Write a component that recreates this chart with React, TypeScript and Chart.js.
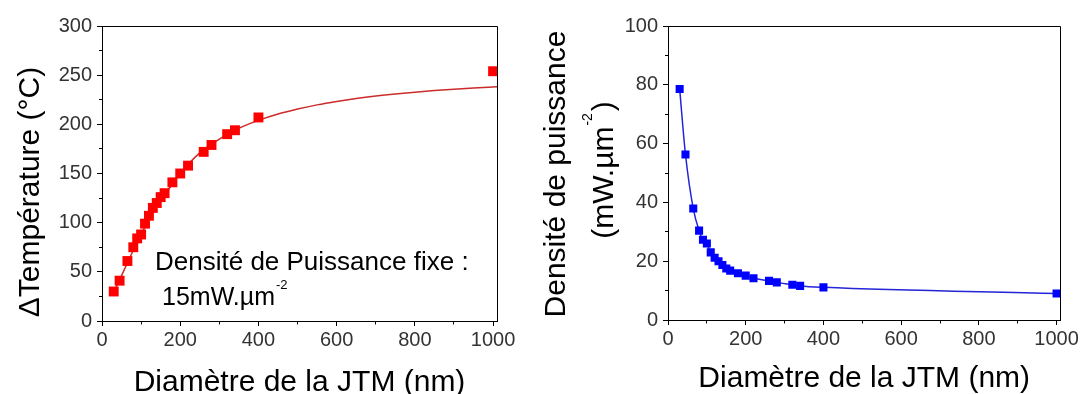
import React, { useEffect, useRef } from 'react';
import { Chart, registerables } from 'chart.js';

Chart.register(...registerables);

const FONT = "'Liberation Sans', Arial, Helvetica, sans-serif";

// ---- data ----
const diameterNm = [30, 45, 65, 80, 90, 100, 110, 120, 130, 140, 150, 160, 180, 200, 220, 260, 280, 320, 340, 400, 1000];
const deltaTemperature = [30, 41, 61, 75, 84, 88, 99, 107, 115, 120, 126, 130, 141, 150, 158, 172, 179, 190, 194, 207, 254];
const fitDiameterNm = [30, 45, 65, 80, 100, 120, 150, 180, 200, 250, 300, 350, 400, 450, 500, 550, 600, 650, 700, 750, 800, 850, 900, 950, 1000, 1010];
const fitDeltaTemperature = [29, 42, 59, 72, 88, 103, 123, 139, 150, 171, 185, 196, 204, 210.5, 215.5, 219.8, 223.3, 226.3, 228.8, 230.9, 232.7, 234.3, 235.7, 236.9, 238, 238.2];
const powerDensity = [78.6, 56.3, 37.9, 30.4, 27.3, 26.0, 23.0, 21.2, 20.0, 18.7, 17.5, 16.8, 15.9, 15.1, 14.2, 13.3, 12.8, 12.0, 11.6, 11.1, 9.0];

// ---- axes ----
const xRange = [0, 1010];
const xMajorTicks = [0, 200, 400, 600, 800, 1000];
const xMinorTicks = [100, 300, 500, 700, 900];
const tempRange = [0, 300];
const tempMajorTicks = [0, 50, 100, 150, 200, 250, 300];
const tempMinorTicks = [25, 75, 125, 175, 225, 275];
const densityRange = [0, 100];
const densityMajorTicks = [0, 20, 40, 60, 80, 100];
const densityMinorTicks = [10, 30, 50, 70, 90];

// ---- texts ----
const xTitle = 'Diamètre de la JTM (nm)';
const leftYTitle = 'ΔTempérature (°C)';
const rightYTitleLine1 = 'Densité de puissance';
const rightYTitleLine2 = ['(mW.µm', '-2', ')'];
const noteLine1 = 'Densité de Puissance fixe :';
const noteLine2 = ['15mW.µm', '-2'];

type Seg = { t: string; size: number; rise?: number; gap?: number };

function drawRich(ctx: CanvasRenderingContext2D, segs: Seg[], x: number, y: number, rot: number, align: 'left' | 'center', color = '#000') {
  ctx.save();
  ctx.translate(x, y);
  ctx.rotate(rot);
  ctx.fillStyle = color;
  ctx.textBaseline = 'alphabetic';
  ctx.textAlign = 'left';
  const widths = segs.map((s) => {
    ctx.font = `${s.size}px ${FONT}`;
    return ctx.measureText(s.t).width + (s.gap || 0);
  });
  const total = widths.reduce((a, b) => a + b, 0);
  let cx = align === 'center' ? -total / 2 : 0;
  segs.forEach((s, i) => {
    ctx.font = `${s.size}px ${FONT}`;
    ctx.fillText(s.t, cx + (s.gap || 0), -(s.rise || 0));
    cx += widths[i];
  });
  ctx.restore();
}

const al = (v: number) => Math.round(v - 0.5) + 0.5;

function decorPlugin(xMinor: number[], yMinor: number[], drawTexts: (ctx: CanvasRenderingContext2D, a: any) => void) {
  return {
    id: 'decor',
    afterDraw(chart: any) {
      const { ctx, chartArea: a, scales } = chart;
      ctx.save();
      ctx.strokeStyle = '#000';
      ctx.lineWidth = 1;
      ctx.beginPath();
      // top and right sides of the frame
      ctx.moveTo(al(a.left), al(a.top));
      ctx.lineTo(al(a.right), al(a.top));
      ctx.lineTo(al(a.right), al(a.bottom));
      // minor ticks
      xMinor.forEach((v) => {
        const px = al(scales.x.getPixelForValue(v));
        ctx.moveTo(px, a.bottom);
        ctx.lineTo(px, a.bottom + 3.5);
      });
      yMinor.forEach((v) => {
        const py = al(scales.y.getPixelForValue(v));
        ctx.moveTo(a.left - 3, py);
        ctx.lineTo(a.left + 0.5, py);
      });
      ctx.stroke();
      ctx.restore();
      drawTexts(ctx, a);
    },
  };
}

function scaleOpts(range: number[], major: number[], padding: number, fit: (s: any) => void) {
  return {
    type: 'linear',
    min: range[0],
    max: range[1],
    afterFit: fit,
    afterBuildTicks: (s: any) => {
      s.ticks = major.map((v) => ({ value: v }));
    },
    ticks: {
      autoSkip: false,
      maxRotation: 0,
      color: '#333',
      padding,
      font: { family: FONT, size: 20 },
      callback: (v: any) => String(v),
    },
    grid: { drawOnChartArea: false, drawTicks: true, tickLength: 5, tickColor: '#000', tickWidth: 1 },
    border: { display: true, color: '#000', width: 1 },
  };
}

function leftConfig(): any {
  return {
    type: 'scatter',
    data: {
      datasets: [
        {
          data: diameterNm.map((d, i) => ({ x: d, y: deltaTemperature[i] })),
          showLine: false,
          pointStyle: 'rect',
          pointRadius: 7,
          pointBorderWidth: 0,
          pointBackgroundColor: '#ff0000',
          pointBorderColor: '#ff0000',
        },
        {
          data: fitDiameterNm.map((d, i) => ({ x: d, y: fitDeltaTemperature[i] })),
          showLine: true,
          pointRadius: 0,
          borderColor: '#cc2b2b',
          borderWidth: 1.5,
          cubicInterpolationMode: 'monotone',
        },
      ],
    },
    options: {
      responsive: false,
      animation: false,
      events: [],
      layout: { padding: { left: 0, right: 43, top: 26, bottom: 0 } },
      plugins: { legend: { display: false }, tooltip: { enabled: false } },
      scales: {
        x: scaleOpts(xRange, xMajorTicks, 2, (s) => { s.height = 73; }),
        y: scaleOpts(tempRange, tempMajorTicks, 5, (s) => { s.width = 102; }),
      },
    },
    plugins: [
      decorPlugin(xMinorTicks, tempMinorTicks, (ctx, a) => {
        drawRich(ctx, [{ t: xTitle, size: 30 }], (a.left + a.right) / 2, 390.5, 0, 'center');
        drawRich(ctx, [{ t: leftYTitle, size: 30 }], 39, 192, -Math.PI / 2, 'center');
        drawRich(ctx, [{ t: noteLine1, size: 26 }], 155, 270, 0, 'left');
        drawRich(ctx, [{ t: noteLine2[0], size: 25 }, { t: noteLine2[1], size: 13, rise: 16, gap: 1 }], 162, 305, 0, 'left');
      }),
    ],
  };
}

function rightConfig(): any {
  return {
    type: 'scatter',
    data: {
      datasets: [
        {
          data: diameterNm.map((d, i) => ({ x: d, y: powerDensity[i] })),
          showLine: true,
          pointStyle: 'rect',
          pointRadius: 5.7,
          pointBorderWidth: 0,
          pointBackgroundColor: '#0000ff',
          pointBorderColor: '#0000ff',
          borderColor: '#2424d8',
          borderWidth: 1.5,
          cubicInterpolationMode: 'monotone',
        },
      ],
    },
    options: {
      responsive: false,
      animation: false,
      events: [],
      layout: { padding: { left: 0, right: 18, top: 26, bottom: 0 } },
      plugins: { legend: { display: false }, tooltip: { enabled: false } },
      scales: {
        x: scaleOpts(xRange, xMajorTicks, 2, (s) => { s.height = 74; }),
        y: scaleOpts(densityRange, densityMajorTicks, 5, (s) => { s.width = 128; }),
      },
    },
    plugins: [
      decorPlugin(xMinorTicks, densityMinorTicks, (ctx, a) => {
        drawRich(ctx, [{ t: xTitle, size: 30 }], (a.left + a.right) / 2, 387, 0, 'center');
        drawRich(ctx, [{ t: rightYTitleLine1, size: 30 }], 25, 174, -Math.PI / 2, 'center');
        drawRich(
          ctx,
          [
            { t: rightYTitleLine2[0], size: 30 },
            { t: rightYTitleLine2[1], size: 14, rise: 21, gap: 1 },
            { t: rightYTitleLine2[2], size: 30, gap: 2 },
          ],
          72.5,
          170,
          -Math.PI / 2,
          'center'
        );
      }),
    ],
  };
}

export default function App() {
  const leftRef = useRef<HTMLCanvasElement>(null);
  const rightRef = useRef<HTMLCanvasElement>(null);

  useEffect(() => {
    const c1 = new Chart(leftRef.current as HTMLCanvasElement, leftConfig());
    const c2 = new Chart(rightRef.current as HTMLCanvasElement, rightConfig());
    return () => {
      c1.destroy();
      c2.destroy();
    };
  }, []);

  return (
    <div style={{ position: 'fixed', left: 0, top: 0, width: 1081, height: 394, background: '#fff' }}>
      <canvas ref={leftRef} width={540} height={394} style={{ position: 'absolute', left: 0, top: 0, width: 540, height: 394 }} />
      <canvas ref={rightRef} width={541} height={394} style={{ position: 'absolute', left: 540, top: 0, width: 541, height: 394 }} />
    </div>
  );
}
